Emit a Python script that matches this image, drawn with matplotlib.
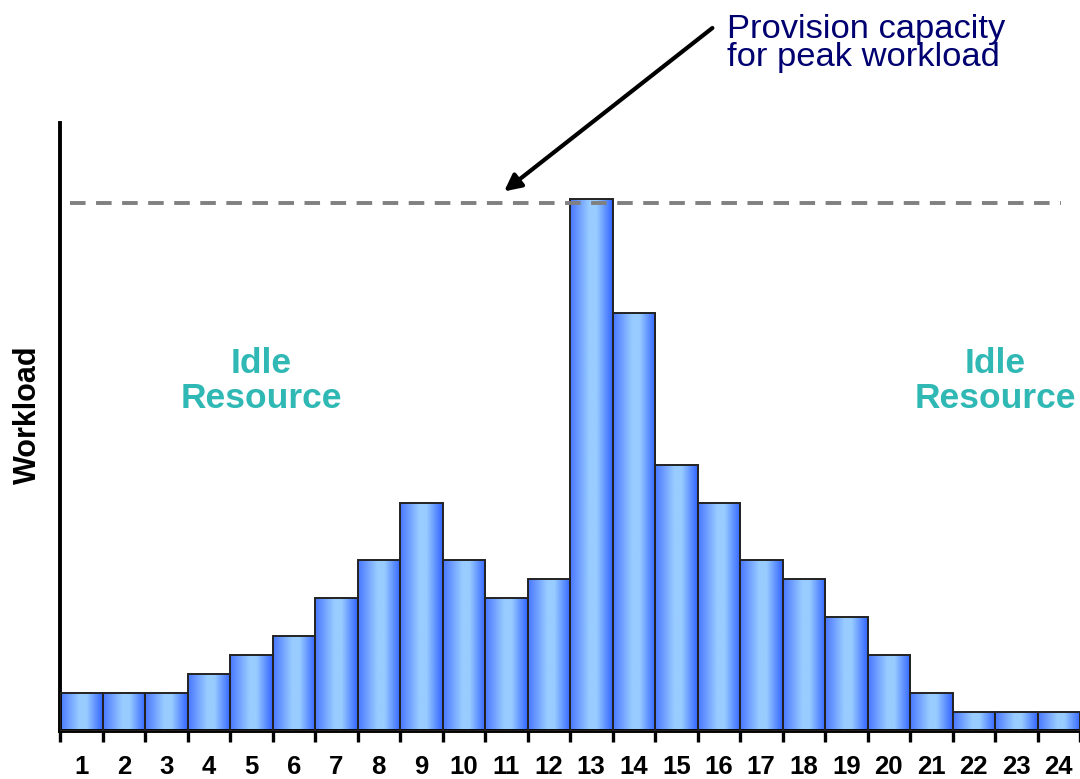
import numpy as np
import matplotlib
matplotlib.use("Agg")
import matplotlib.pyplot as plt
from matplotlib.colors import LinearSegmentedColormap

plt.rcParams['font.family'] = ['Liberation Sans', 'DejaVu Sans']

# data
hours = list(range(1, 25))
workload = [2, 2, 2, 3, 4, 5, 7, 9, 12, 9, 7, 8, 28, 22, 14, 12, 9, 8, 6, 4, 2, 1, 1, 1]
peak_capacity = 27.8
tick_labels = [str(h) for h in hours]

fig = plt.figure(figsize=(10.8, 7.79), dpi=100)
ax = fig.add_axes([60 / 1080, 48 / 779, 1020 / 1080, 608 / 779])

# bars with a horizontal blue gradient
cmap = LinearSegmentedColormap.from_list(
    'bluebar', [(0.0, '#4a78ff'), (0.45, '#99ccff'), (0.62, '#99ccff'), (1.0, '#3366ff')])
grad = np.linspace(0, 1, 64).reshape(1, -1)
bars = ax.bar(hours, workload, width=1.0, color='none', edgecolor='#222222', linewidth=1.4, zorder=3)
for b in bars:
    x0, y0 = b.get_x(), b.get_y()
    im = ax.imshow(grad, cmap=cmap, aspect='auto', interpolation='bicubic',
                   extent=[x0, x0 + b.get_width(), y0, y0 + b.get_height()], zorder=2)
    im.set_clip_path(b)

ax.set_xlim(0.5, 24.5)
ax.set_ylim(0, 32)

# peak capacity line
ax.axhline(peak_capacity, xmin=0.01, xmax=0.981, color='#808080', linestyle=(0, (4, 2.7)),
           linewidth=2.8, zorder=4)

# axes styling
for s in ['top', 'right']:
    ax.spines[s].set_visible(False)
ax.spines['left'].set_linewidth(2.8)
ax.spines['bottom'].set_linewidth(2.8)
ax.set_yticks([])
ax.set_xticks(np.arange(0.5, 25, 1.0))
ax.set_xticklabels([])
ax.tick_params(axis='x', which='major', length=8, width=2.4, direction='out')
ax.set_xticks(hours, minor=True)
ax.set_xticklabels(tick_labels, minor=True, fontsize=18.5, fontweight='bold')
ax.tick_params(axis='x', which='minor', length=0, pad=17)

ax.set_ylabel('Workload', fontsize=22, fontweight='bold')
ax.yaxis.set_label_coords(-0.017, 0.52)

teal = '#2fb8b4'
for x in (5.23, 22.5):
    ax.text(x, 18.4, 'Idle\nResource', ha='center', va='center', fontsize=25.5,
            fontweight='bold', color=teal, linespacing=1.07, clip_on=False)

ax.text(16.19, 36.2, 'Provision capacity\nfor peak workload', ha='left', va='center',
        fontsize=24.8, color='#000070', linespacing=0.86, clip_on=False)
ax.annotate('', xy=(10.95, 28.4), xytext=(15.85, 37.0),
            arrowprops=dict(arrowstyle='-|>,head_length=1.0,head_width=0.5',
                            color='black', linewidth=3, shrinkA=0, shrinkB=0),
            annotation_clip=False)

fig.savefig('out.png', dpi=100)
